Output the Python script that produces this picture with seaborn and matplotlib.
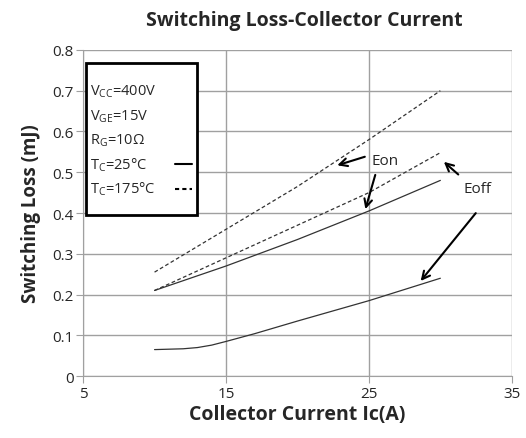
import numpy as np
import pandas as pd
import matplotlib
matplotlib.use("Agg")
import matplotlib.pyplot as plt
import seaborn as sns

# data
ic = [10, 15, 20, 25, 30]
eon_175 = [0.255, 0.36, 0.465, 0.58, 0.70]
eon_25 = [0.21, 0.27, 0.335, 0.405, 0.48]
eoff_175 = [0.21, 0.29, 0.37, 0.45, 0.548]
eoff_ic = [10, 12, 13, 14, 15, 17, 20, 25, 30]
eoff_25 = [0.065, 0.067, 0.07, 0.076, 0.085, 0.104, 0.135, 0.185, 0.24]

x_ticks = [5, 15, 25, 35]
y_ticks = [0, 0.1, 0.2, 0.3, 0.4, 0.5, 0.6, 0.7, 0.8]

sns.set_style("whitegrid", {"grid.color": "#a0a0a0", "axes.edgecolor": "#a0a0a0"})
plt.rcParams['font.family'] = ['Open Sans', 'DejaVu Sans']
plt.rcParams['mathtext.fontset'] = 'custom'
plt.rcParams['mathtext.rm'] = 'Open Sans'

fig = plt.figure(figsize=(5.26, 4.39), dpi=100)
ax = fig.add_axes([0.158, 0.141, 0.815, 0.743])

lines = [
    (ic, eon_175, (0, (3, 2))),
    (ic, eon_25, "-"),
    (ic, eoff_175, (0, (3, 2))),
    (eoff_ic, eoff_25, "-"),
]
for xs, ys, ls in lines:
    sns.lineplot(x=xs, y=ys, ax=ax, color="#333333", linewidth=0.9, linestyle=ls)

ax.set_xlim(5, 35)
ax.set_ylim(0, 0.8)
ax.set_xticks(x_ticks)
ax.set_yticks(y_ticks)
ax.set_yticklabels([f"{v:g}" for v in y_ticks])
ax.tick_params(axis="both", labelsize=11, length=5, color="#a0a0a0", pad=2)
ax.tick_params(axis="y", left=True)
ax.tick_params(axis="x", bottom=True)
for s in ["top", "right"]:
    ax.spines[s].set_visible(False)
ax.grid(True, linewidth=1)

ax.set_title("Switching Loss-Collector Current", fontsize=14, fontweight="bold", pad=18, x=0.515)
ax.set_xlabel("Collector Current Ic(A)", fontsize=14, fontweight="bold", labelpad=2)
ax.set_ylabel("Switching Loss (mJ)", fontsize=13.5, fontweight="bold", labelpad=8)

# conditions box
box = plt.Rectangle((5.2, 0.395), 7.75, 0.373, fill=True, facecolor="white",
                    edgecolor="black", linewidth=2, zorder=5)
ax.add_patch(box)
conds = [r"V$_{\mathrm{CC}}$=400V", r"V$_{\mathrm{GE}}$=15V", r"R$_{\mathrm{G}}$=10Ω",
         r"T$_{\mathrm{C}}$=25°C", r"T$_{\mathrm{C}}$=175°C"]
for i, t in enumerate(conds):
    ax.text(5.45, 0.7 - i * 0.06, t, fontsize=10.5, va="center", ha="left", zorder=6)
ax.plot([11.4, 12.6], [0.52, 0.52], color="black", linewidth=1.5, zorder=6)
ax.plot([11.4, 12.6], [0.46, 0.46], color="black", linewidth=1.5, linestyle=(0, (2, 1.5)), zorder=6)

# annotations
arrow = dict(arrowstyle="->", color="black", linewidth=1.5, mutation_scale=14)
ax.text(25.2, 0.53, "Eon", fontsize=11, va="center", ha="left")
ax.annotate("", xy=(22.6, 0.515), xytext=(24.9, 0.54), arrowprops=arrow)
ax.annotate("", xy=(24.7, 0.403), xytext=(25.5, 0.50), arrowprops=arrow)
ax.text(32.6, 0.459, "Eoff", fontsize=11, va="center", ha="center")
ax.annotate("", xy=(30.1, 0.53), xytext=(31.4, 0.49), arrowprops=arrow)
ax.annotate("", xy=(28.5, 0.228), xytext=(32.6, 0.405), arrowprops=arrow)

fig.savefig("out.png", dpi=100)
